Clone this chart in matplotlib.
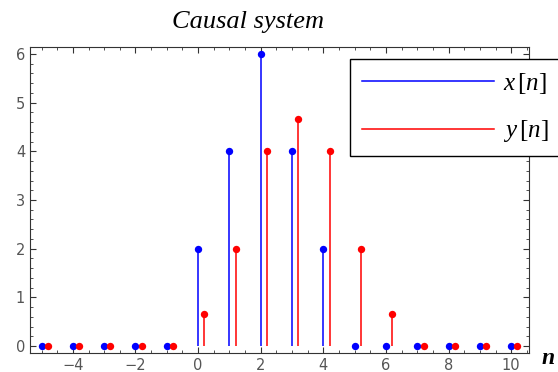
import numpy as np
import matplotlib
matplotlib.use("Agg")
from matplotlib import pyplot as plt
from matplotlib.ticker import MultipleLocator

n = np.arange(-5, 11)
x_vals = [0, 0, 0, 0, 0, 2, 4, 6, 4, 2, 0, 0, 0, 0, 0, 0]
y_vals = [0, 0, 0, 0, 0, 0.667, 2, 4, 4.667, 4, 2, 0.667, 0, 0, 0, 0]
shift = 0.2

plt.rcParams['mathtext.fontset'] = 'custom'
plt.rcParams['mathtext.it'] = 'Liberation Serif:italic'
plt.rcParams['mathtext.rm'] = 'Liberation Serif'

fig = plt.figure(figsize=(5.58, 3.72), dpi=100)
ax = fig.add_axes([30/558, 1-353/372, (529-30)/558, (353-46.5)/372])


def stems(ax, pos, vals, color, label):
    ax.vlines(pos, 0, vals, color=color, lw=1.1)
    ax.plot(pos, vals, 'o', color=color, ms=5.3, mec='none', clip_on=False)
    ax.plot([], [], '-', color=color, lw=1.1, label=label)


stems(ax, n, x_vals, (0, 0, 1), r'$x\,[n]$')
stems(ax, n + shift, y_vals, (1, 0, 0), r'$y\,[n]$')

ax.set_xlim(-5.37, 10.57)
ax.set_ylim(-0.14, 6.15)
ax.xaxis.set_major_locator(MultipleLocator(2))
ax.xaxis.set_minor_locator(MultipleLocator(0.5))
ax.yaxis.set_major_locator(MultipleLocator(1))
ax.yaxis.set_minor_locator(MultipleLocator(0.2))
ax.tick_params(which='both', direction='in', top=True, right=True,
               labelsize=10.5, labelcolor='#555555', color='#333333')
ax.tick_params(which='major', length=4.5, width=0.8)
ax.tick_params(which='minor', length=2.5, width=0.6)
for s in ax.spines.values():
    s.set_linewidth(0.8)
    s.set_color('#333333')

leg = fig.legend(loc='upper left', bbox_to_anchor=(350/558, 1-59/372),
                 fancybox=False, framealpha=1, edgecolor='black',
                 prop={'size': 18},
                 handlelength=5.3, labelspacing=0.92, borderpad=0.46,
                 handletextpad=0.36, borderaxespad=0)
leg.get_frame().set_linewidth(1.0)

fig.text(248/558, 1-22/372, 'Causal system', ha='center', va='center',
         family='Liberation Serif', style='italic', fontsize=19)
fig.text(548/558, 1-358/372, 'n', ha='center', va='center',
         family='Liberation Serif', style='italic', weight='bold', fontsize=17)

fig.savefig('out.png', dpi=100)
